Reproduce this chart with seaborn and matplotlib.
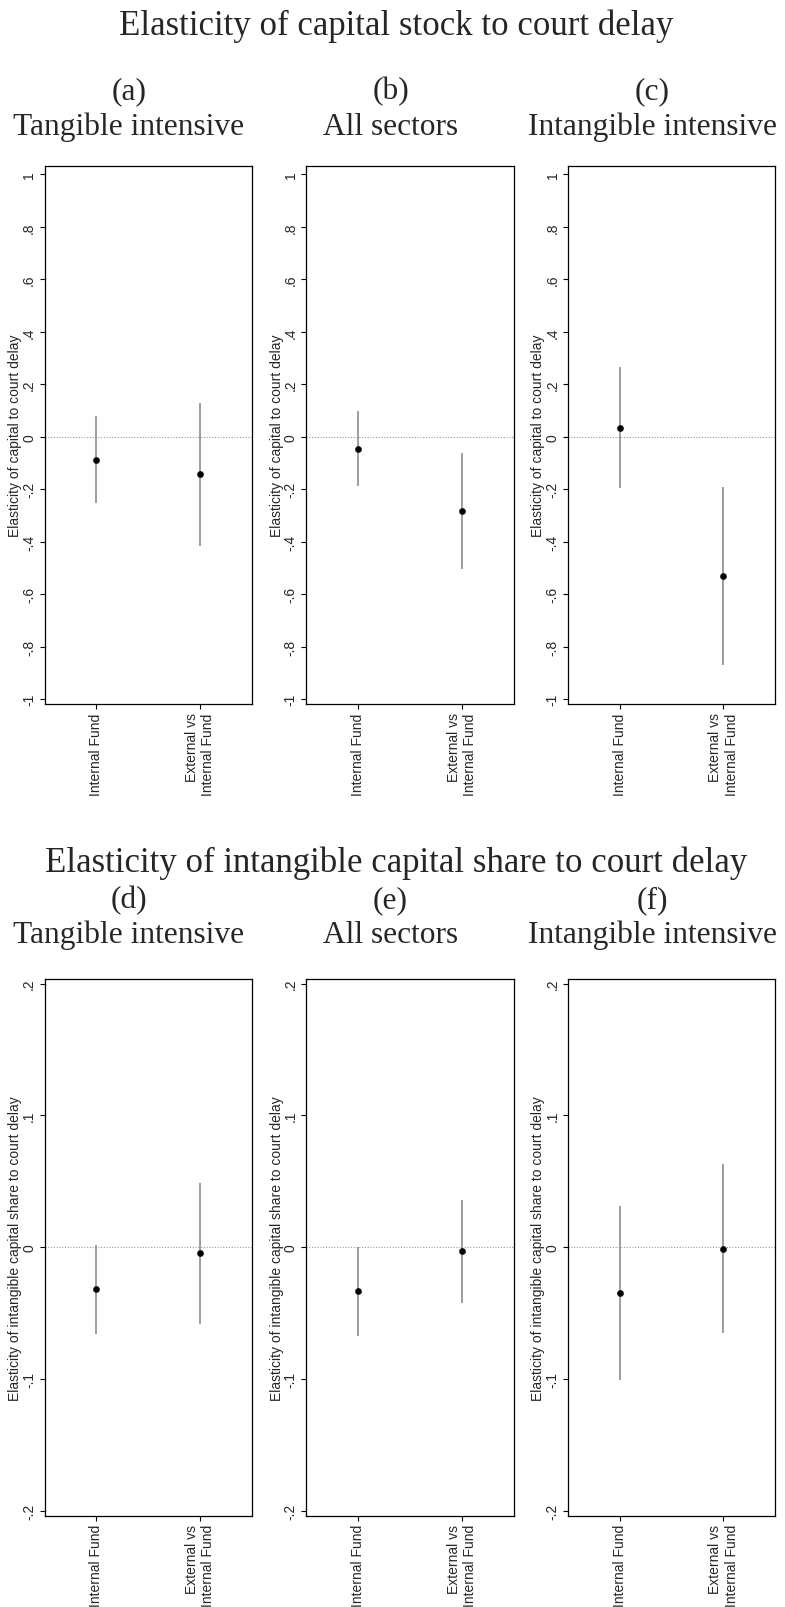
import matplotlib
matplotlib.use("Agg")
import matplotlib.pyplot as plt
import pandas as pd
import seaborn as sns

# ---- data -------------------------------------------------------------
categories = ["Internal Fund", "External vs\nInternal Fund"]

# Elasticity of capital stock to court delay (point estimate, CI bounds)
cap_tang_est = [-0.087, -0.143]
cap_tang_lo = [-0.254, -0.416]
cap_tang_hi = [0.079, 0.130]

cap_all_est = [-0.045, -0.283]
cap_all_lo = [-0.187, -0.505]
cap_all_hi = [0.097, -0.061]

cap_intang_est = [0.035, -0.530]
cap_intang_lo = [-0.196, -0.868]
cap_intang_hi = [0.266, -0.193]

# Elasticity of intangible capital share to court delay
shr_tang_est = [-0.032, -0.004]
shr_tang_lo = [-0.066, -0.058]
shr_tang_hi = [0.002, 0.049]

shr_all_est = [-0.033, -0.003]
shr_all_lo = [-0.067, -0.042]
shr_all_hi = [0.000, 0.036]

shr_intang_est = [-0.035, -0.001]
shr_intang_lo = [-0.101, -0.065]
shr_intang_hi = [0.031, 0.063]

panel_letters_top = ["(a)", "(b)", "(c)"]
panel_letters_bot = ["(d)", "(e)", "(f)"]
panel_groups = ["Tangible intensive", "All sectors", "Intangible intensive"]

top_title = "Elasticity of capital stock to court delay"
bot_title = "Elasticity of intangible capital share to court delay"
top_ylabel = "Elasticity of capital to court delay"
bot_ylabel = "Elasticity of intangible capital share to court delay"

top_ticks = [-1, -0.8, -0.6, -0.4, -0.2, 0, 0.2, 0.4, 0.6, 0.8, 1]
top_ticklabels = ["-1", "-.8", "-.6", "-.4", "-.2", "0", ".2", ".4", ".6", ".8", "1"]
bot_ticks = [-0.2, -0.1, 0, 0.1, 0.2]
bot_ticklabels = ["-.2", "-.1", "0", ".1", ".2"]

# ---- style ------------------------------------------------------------
sns.set_theme(style="white")
plt.rcParams["font.family"] = ["Liberation Sans", "DejaVu Sans"]
serif = ["Liberation Serif", "DejaVu Serif"]

W, H = 785, 1608
fig = plt.figure(figsize=(W / 100, H / 100), dpi=100)
fig.patch.set_facecolor("white")


def px_axes(x0, y_top, w, h):
    return fig.add_axes([x0 / W, 1 - (y_top + h) / H, w / W, h / H])


def draw_panel(ax, est, lo, hi, ticks, ticklabels, ylim, ylabel):
    df = pd.DataFrame({"cat": categories, "est": est, "lo": lo, "hi": hi})
    ax.axhline(0, color="#9a9a9a", lw=0.8, ls=(0, (1, 1.5)), zorder=1)
    ax.vlines(df["cat"], df["lo"], df["hi"], color="#8e8e8e", lw=1.2, zorder=2)
    sns.scatterplot(data=df, x="cat", y="est", ax=ax, color="black",
                    s=20, edgecolor="black", linewidth=0.3, zorder=3, legend=False)
    ax.set_xlim(-0.5, 1.5)
    ax.set_ylim(*ylim)
    ax.set_yticks(ticks)
    ax.set_yticklabels(ticklabels, rotation=90, va="center")
    ax.set_xticks([0, 1])
    ax.set_xticklabels(categories, rotation=90, ha="center", va="top",
                       multialignment="right")
    ax.set_xlabel("")
    ax.set_ylabel(ylabel, fontsize=10)
    ax.yaxis.set_label_coords(-0.108, 0.5)
    ax.tick_params(axis="both", which="major", direction="out", length=3.5,
                   width=0.8, color="black", labelsize=10, pad=2.5,
                   left=True, bottom=True)
    for s in ax.spines.values():
        s.set_color("black")
        s.set_linewidth(0.9)
    ax.set_facecolor("white")
    ax.grid(False)


top_data = [
    (cap_tang_est, cap_tang_lo, cap_tang_hi),
    (cap_all_est, cap_all_lo, cap_all_hi),
    (cap_intang_est, cap_intang_lo, cap_intang_hi),
]
bot_data = [
    (shr_tang_est, shr_tang_lo, shr_tang_hi),
    (shr_all_est, shr_all_lo, shr_all_hi),
    (shr_intang_est, shr_intang_lo, shr_intang_hi),
]

col_w = W / 3
for i in range(3):
    x0 = i * col_w + 44.5
    ax = px_axes(x0, 167, 207.5, 538)
    draw_panel(ax, *top_data[i], top_ticks, top_ticklabels, (-1.018, 1.032), top_ylabel)
    ax = px_axes(x0, 980, 207.5, 536.5)
    draw_panel(ax, *bot_data[i], bot_ticks, bot_ticklabels, (-0.2035, 0.2035), bot_ylabel)

# ---- titles -----------------------------------------------------------
fig.text(396 / W, 1 - 35 / H, top_title, ha="center", va="baseline",
         fontsize=25, family=serif)
fig.text(396 / W, 1 - 872 / H, bot_title, ha="center", va="baseline",
         fontsize=25, family=serif)
for i in range(3):
    cx = (i * col_w + col_w / 2 - 2) / W
    fig.text(cx, 1 - 99 / H, panel_letters_top[i], ha="center", va="baseline",
             fontsize=22.6, family=serif)
    fig.text(cx, 1 - 135 / H, panel_groups[i], ha="center", va="baseline",
             fontsize=22.6, family=serif)
    fig.text(cx, 1 - 908 / H, panel_letters_bot[i], ha="center", va="baseline",
             fontsize=22.6, family=serif)
    fig.text(cx, 1 - 943 / H, panel_groups[i], ha="center", va="baseline",
             fontsize=22.6, family=serif)

fig.savefig("out.png", dpi=100, facecolor="white")
